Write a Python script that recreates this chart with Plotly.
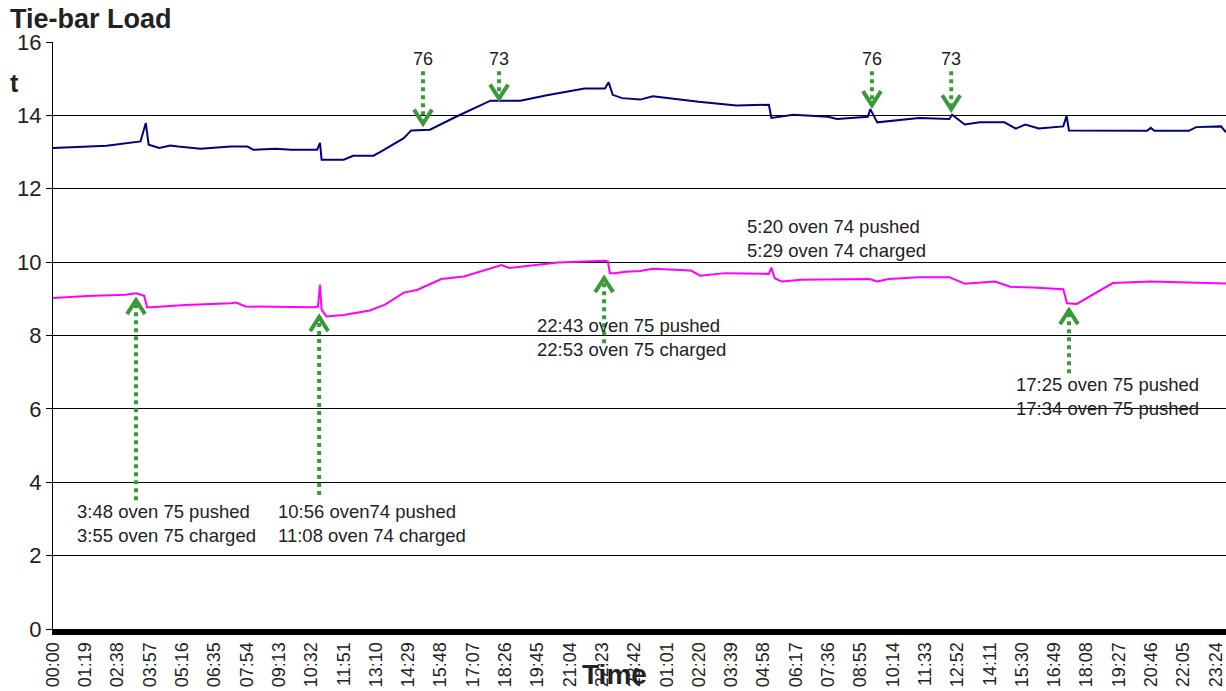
import plotly.graph_objects as go

# ---- data (minutes from start of first day, tonnes) ----
blue_min = [0, 131, 214, 227, 234, 260, 287, 306, 361, 435, 476, 490, 545, 582, 646, 653, 657, 711, 734, 784,
            803, 858, 876, 922, 987, 1070, 1143, 1208, 1300, 1350, 1359, 1369, 1392, 1436, 1467, 1579, 1672, 1751, 1757, 1811,
            1895, 1918, 1993, 1999, 2016, 2062, 2118, 2192, 2199, 2230, 2267, 2327, 2355, 2378, 2411, 2471, 2479, 2485, 2676, 2685,
            2694, 2778, 2796, 2857, 2869]
blue_val = [13.11, 13.17, 13.29, 13.79, 13.20, 13.11, 13.18, 13.15, 13.09, 13.15, 13.15, 13.06, 13.09, 13.06, 13.06, 13.25, 12.79, 12.79, 12.90, 12.90,
            13.02, 13.38, 13.59, 13.61, 13.97, 14.40, 14.40, 14.55, 14.73, 14.73, 14.90, 14.56, 14.47, 14.43, 14.52, 14.37, 14.27, 14.29, 13.93, 14.02,
            13.96, 13.90, 13.96, 14.17, 13.81, 13.86, 13.93, 13.90, 14.02, 13.75, 13.81, 13.81, 13.64, 13.75, 13.64, 13.70, 13.99, 13.59, 13.58, 13.66,
            13.58, 13.58, 13.68, 13.70, 13.54]

mag_min = [0, 85, 177, 204, 223, 230, 241, 324, 435, 448, 471, 637, 648, 653, 657, 669, 711, 775, 812, 858,
           890, 950, 1005, 1051, 1097, 1116, 1235, 1350, 1357, 1362, 1373, 1401, 1436, 1467, 1560, 1583, 1644, 1751, 1757, 1765,
           1783, 1830, 1997, 2016, 2044, 2118, 2192, 2230, 2304, 2341, 2397, 2471, 2480, 2504, 2564, 2592, 2685, 2869]
mag_val = [9.02, 9.08, 9.11, 9.15, 9.08, 8.77, 8.77, 8.83, 8.88, 8.90, 8.79, 8.77, 8.79, 9.38, 8.70, 8.52, 8.56, 8.68, 8.84, 9.17,
           9.24, 9.54, 9.61, 9.76, 9.92, 9.84, 9.99, 10.04, 10.02, 9.70, 9.70, 9.74, 9.76, 9.82, 9.77, 9.63, 9.70, 9.68, 9.85, 9.56,
           9.47, 9.52, 9.54, 9.47, 9.54, 9.59, 9.59, 9.41, 9.47, 9.33, 9.31, 9.26, 8.88, 8.86, 9.24, 9.43, 9.47, 9.42]

x_tick_labels = ["00:00", "01:19", "02:38", "03:57", "05:16", "06:35", "07:54", "09:13", "10:32", "11:51",
                 "13:10", "14:29", "15:48", "17:07", "18:26", "19:45", "21:04", "22:23", "23:42", "01:01",
                 "02:20", "03:39", "04:58", "06:17", "07:36", "08:55", "10:14", "11:33", "12:52", "14:11",
                 "15:30", "16:49", "18:08", "19:27", "20:46", "22:05", "23:24"]
tick_step = 79

# oven number arrows (pointing down onto blue line)
down_x = [905, 1091, 2003, 2197]
down_label = ["76", "73", "76", "73"]
down_tip = [13.75, 14.43, 14.25, 14.14]
down_tail = 15.20
down_label_y = 15.53

# event arrows (pointing up to magenta line)
up_x = [203, 651, 1348, 2485]
up_tip = [8.99, 8.53, 9.59, 8.72]
up_tail = [3.51, 3.65, 7.79, 6.97]

notes_x = [54, 545, 1179, 2350, 1693]
notes_y = [2.87, 2.87, 7.95, 6.35, 10.64]
notes_text = ["3:48 oven 75 pushed<br>3:55 oven 75 charged",
              "10:56 oven74 pushed<br>11:08 oven 74 charged",
              "22:43 oven 75 pushed<br>22:53 oven 75 charged",
              "17:25 oven 75 pushed<br>17:34 oven 75 pushed",
              "5:20 oven 74 pushed<br>5:29 oven 74 charged"]

GREEN = "#3a9a3a"
FONT = "Liberation Sans, Arial, sans-serif"
TXT = "#222222"

fig = go.Figure()
fig.add_trace(go.Scatter(x=blue_min, y=blue_val, mode="lines",
                         line=dict(color="#000080", width=2), showlegend=False, hoverinfo="skip"))
fig.add_trace(go.Scatter(x=mag_min, y=mag_val, mode="lines",
                         line=dict(color="#ff00ff", width=2), showlegend=False, hoverinfo="skip"))

shapes = []
annotations = []
# down arrows
for xv, tip, lab in zip(down_x, down_tip, down_label):
    shapes.append(dict(type="line", xref="x", yref="y", x0=xv, x1=xv, y0=down_tail, y1=tip,
                       line=dict(color=GREEN, width=4, dash="dot"), layer="above"))
    shapes.append(dict(type="path", xref="x", yref="y", xsizemode="pixel", ysizemode="pixel",
                       xanchor=xv, yanchor=tip, path="M -9,15 L 0,1 L 9,15",
                       line=dict(color=GREEN, width=4), layer="above"))
    annotations.append(dict(x=xv, y=down_label_y, xref="x", yref="y", text=lab, showarrow=False,
                            font=dict(family=FONT, size=18, color=TXT), xanchor="center", yanchor="middle"))
# up arrows
for xv, tip, tail in zip(up_x, up_tip, up_tail):
    shapes.append(dict(type="line", xref="x", yref="y", x0=xv, x1=xv, y0=tail, y1=tip,
                       line=dict(color=GREEN, width=4, dash="dot"), layer="above"))
    shapes.append(dict(type="path", xref="x", yref="y", xsizemode="pixel", ysizemode="pixel",
                       xanchor=xv, yanchor=tip, path="M -9,-15 L 0,-1 L 9,-15",
                       line=dict(color=GREEN, width=4), layer="above"))
# notes
for xv, yv, t in zip(notes_x, notes_y, notes_text):
    annotations.append(dict(x=xv, y=yv, xref="x", yref="y", text=t, showarrow=False, align="left",
                            xanchor="left", yanchor="middle",
                            font=dict(family=FONT, size=18.5, color=TXT)))

# axis label "t" and "Time"
annotations.append(dict(xref="paper", yref="paper", x=-0.033, y=0.930, text="<b>t</b>", showarrow=False,
                        xanchor="center", yanchor="middle", font=dict(family=FONT, size=25, color=TXT)))
annotations.append(dict(xref="paper", yref="paper", x=0.479, y=0, yshift=-45, text="<b>Time</b>", showarrow=False,
                        xanchor="center", yanchor="middle", font=dict(family=FONT, size=28, color=TXT)))

fig.update_layout(
    width=1226, height=691,
    margin=dict(l=53, r=0, t=42, b=62),
    paper_bgcolor="white", plot_bgcolor="white",
    title=dict(text="<b>Tie-bar Load</b>", xref="container", yref="container",
               x=10 / 1226, y=1 - 19 / 691, xanchor="left", yanchor="middle",
               font=dict(family=FONT, size=27, color=TXT)),
    shapes=shapes, annotations=annotations,
    font=dict(family=FONT, color=TXT),
    xaxis=dict(range=[0, 2869], tickvals=[i * tick_step for i in range(len(x_tick_labels))],
               ticktext=x_tick_labels, tickangle=-90, showgrid=False, zeroline=False,
               showline=True, linecolor="black", linewidth=6, ticks="", automargin=False,
               tickfont=dict(family=FONT, size=18, color=TXT)),
    yaxis=dict(range=[0, 16], tickvals=list(range(0, 17, 2)), showgrid=True, gridcolor="black",
               gridwidth=1, zeroline=False, showline=True, linecolor="black", linewidth=1,
               ticks="outside", ticklen=6, tickcolor="black", automargin=False,
               tickfont=dict(family=FONT, size=22, color=TXT)),
)

fig.write_html("out.html", config={"displayModeBar": False},
               post_script="document.body.style.margin='0';document.body.style.overflow='hidden';")
